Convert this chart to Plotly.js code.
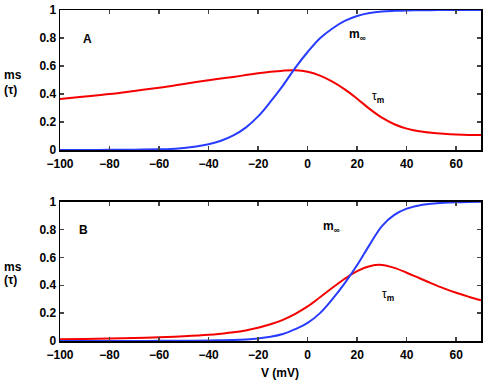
<!DOCTYPE html>
<html><head><meta charset="utf-8">
<script src="https://cdn.plot.ly/plotly-3.0.1.min.js"></script>
<style>html,body{margin:0;padding:0;background:#fff}#g{width:485px;height:381px}</style>
</head><body><div id="g"></div>
<script>
// Panel A
const vA = [-100,-90,-80,-70,-60,-55,-50,-45,-40,-35,-30,-25,-20,-15,-10,-5,0,5,10,15,20,25,30,35,40,45,50,55,60,65,70];
const mInfA = [0.0002,0.0005,0.001,0.002,0.005,0.008,0.014,0.025,0.041,0.066,0.104,0.16,0.24,0.345,0.46,0.587,0.70,0.798,0.868,0.922,0.957,0.978,0.989,0.994,0.997,0.998,0.999,1.0,1.0,1.0,1.0];
const tauA  = [0.364,0.382,0.40,0.422,0.445,0.458,0.471,0.485,0.498,0.510,0.522,0.535,0.548,0.559,0.567,0.570,0.559,0.531,0.488,0.433,0.366,0.294,0.231,0.184,0.153,0.134,0.123,0.116,0.111,0.108,0.107];
// Panel B
const vB = [-100,-90,-80,-70,-60,-50,-40,-35,-30,-25,-20,-15,-10,-5,0,5,10,15,20,25,30,35,40,45,50,55,60,65,70];
const mInfB = [0.0,0.0001,0.0003,0.0006,0.001,0.002,0.004,0.005,0.007,0.011,0.018,0.03,0.05,0.085,0.13,0.20,0.30,0.415,0.545,0.69,0.825,0.905,0.95,0.973,0.985,0.992,0.996,0.998,0.999];
const tauB  = [0.012,0.015,0.018,0.022,0.027,0.034,0.044,0.052,0.062,0.076,0.095,0.12,0.152,0.195,0.248,0.314,0.382,0.447,0.502,0.537,0.546,0.525,0.49,0.452,0.414,0.378,0.346,0.318,0.292];
const xTicks = [-100,-80,-60,-40,-20,0,20,40,60];
const yTicks = [0,0.2,0.4,0.6,0.8,1];
const yTickText = ['0','0.2','0.4','0.6','0.8','1'];

const RED = 'rgb(245,0,0)', BLUE = 'rgb(40,60,255)';
const font = {family:'Liberation Sans, Arial, sans-serif', size:12, color:'#000', weight:'bold'};
const traces = [
  {x:vA, y:tauA, xaxis:'x', yaxis:'y', mode:'lines', line:{color:RED,width:2,shape:'spline',smoothing:1}},
  {x:vA, y:mInfA, xaxis:'x', yaxis:'y', mode:'lines', line:{color:BLUE,width:2,shape:'spline',smoothing:1}},
  {x:vB, y:tauB, xaxis:'x2', yaxis:'y2', mode:'lines', line:{color:RED,width:2,shape:'spline',smoothing:1}},
  {x:vB, y:mInfB, xaxis:'x2', yaxis:'y2', mode:'lines', line:{color:BLUE,width:2,shape:'spline',smoothing:1}}
];
const xax = (anchor)=>({range:[-100,70], tickvals:xTicks, ticks:'inside', ticklen:4, tickwidth:1.5,
  showline:true, mirror:'ticks', linecolor:'#000', linewidth:1.5, showgrid:false, zeroline:false,
  anchor:anchor, domain:[0,1], tickfont:font, ticklabelstandoff:2, fixedrange:true});
const yax = (anchor, dom)=>({range:[0,1], tickvals:yTicks, ticktext:yTickText, ticks:'inside', ticklen:4, tickwidth:1.5,
  showline:true, mirror:'ticks', linecolor:'#000', linewidth:1.5, showgrid:false, zeroline:false,
  anchor:anchor, domain:dom, tickfont:font, fixedrange:true});
const ann = (xref,yref,x,y,text,size,extra)=>Object.assign({xref:xref,yref:yref,x:x,y:y,text:text,showarrow:false,
  xanchor:'center', yanchor:'middle',
  font:{family:font.family,size:size||12,color:'#000',weight:'bold'}},extra||{});
const layout = {
  width:485, height:381, margin:{l:60,r:4,t:10,b:40}, showlegend:false,
  paper_bgcolor:'#fff', plot_bgcolor:'#fff',
  xaxis: xax('y'),
  yaxis: yax('x',[0.577,1]),
  xaxis2: xax('y2'),
  yaxis2: yax('x2',[0,0.421]),
  annotations:[
    ann('x','y',-89,0.79,'A',12),
    ann('x','y',20,0.82,'m<sub>∞</sub>',12),
    ann('x','y',28.5,0.38,'<span style="font-weight:normal">τ</span><sub>m</sub>',12),
    ann('x2','y2',-90.4,0.80,'B',12),
    ann('x2','y2',9.5,0.815,'m<sub>∞</sub>',12),
    ann('x2','y2',32.6,0.33,'<span style="font-weight:normal">τ</span><sub>m</sub>',12),
    ann('paper','paper',-0.138,0.804,'ms',12,{xanchor:'left'}),
    ann('paper','paper',-0.138,0.758,'(τ)',12,{xanchor:'left'}),
    ann('paper','paper',-0.138,0.2245,'ms',12,{xanchor:'left'}),
    ann('paper','paper',-0.138,0.184,'(τ)',12,{xanchor:'left'}),
    ann('paper','paper',0.5226,-0.0967,'V (mV)',12)
  ]
};
Plotly.newPlot('g', traces, layout, {staticPlot:true, displayModeBar:false});
</script></body></html>
